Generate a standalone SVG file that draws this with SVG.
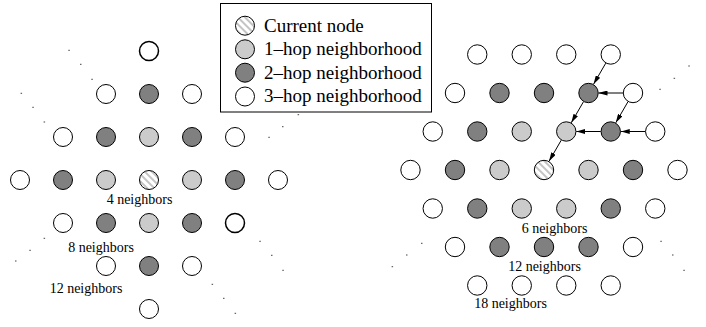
<svg xmlns="http://www.w3.org/2000/svg" width="706" height="327" viewBox="0 0 706 327">
  <style>
    .n { stroke: #000; stroke-width: 1; }
    .w { fill: #fff; }
    .l { fill: #cbcbcb; }
    .d { fill: #808080; }
    .h { fill: url(#hatch); }
    .bold { stroke-width: 1.5; }
    .lbl { font-family: "Liberation Serif", "Times New Roman", serif; font-size: 14px; fill: #000; text-anchor: middle; }
    .leg { font-family: "Liberation Serif", "Times New Roman", serif; font-size: 19px; fill: #000; }
    .dot { fill: #444; }
    .edge { stroke: #000; stroke-width: 1; fill: none; marker-end: url(#arrow); }
  </style>
  <defs>
    <pattern id="hatch" width="5" height="5" patternUnits="userSpaceOnUse" patternTransform="rotate(-45)">
      <rect width="5" height="5" fill="#fff"/>
      <line x1="1" y1="0" x2="1" y2="5" stroke="#8a8a8a" stroke-width="1"/>
    </pattern>
    <marker id="arrow" viewBox="0 0 9 5" refX="9" refY="2.5" markerWidth="9" markerHeight="5" markerUnits="userSpaceOnUse" orient="auto">
      <path d="M0,0 L9,2.5 L0,5 z" fill="#000"/>
    </marker>
  </defs>

  <rect x="0" y="0" width="706" height="327" fill="#fff"/>

  <!-- Legend -->
  <g id="legend">
    <rect x="220.5" y="3.5" width="211" height="108.5" fill="#fff" stroke="#000" stroke-width="1"/>
    <circle class="n h" cx="245" cy="25.7" r="9.5"/>
    <circle class="n l" cx="245" cy="49.3" r="9.5"/>
    <circle class="n d" cx="245" cy="72.7" r="9.5"/>
    <circle class="n w" cx="245" cy="96.5" r="9.5"/>
    <text class="leg" x="264" y="31.5">Current node</text>
    <text class="leg" x="264" y="55">1–hop neighborhood</text>
    <text class="leg" x="264" y="78.5">2–hop neighborhood</text>
    <text class="leg" x="264" y="102">3–hop neighborhood</text>
  </g>

  <!-- Square grid: 4 / 8 / 12 neighbors -->
  <g id="square-grid">
    <circle class="n w bold" cx="149" cy="51" r="9.5"/>

    <circle class="n w" cx="106" cy="94" r="9.5"/>
    <circle class="n d" cx="149" cy="94" r="9.5"/>
    <circle class="n w" cx="192" cy="94" r="9.5"/>

    <circle class="n w" cx="63" cy="137" r="9.5"/>
    <circle class="n d" cx="106" cy="137" r="9.5"/>
    <circle class="n l" cx="149" cy="137" r="9.5"/>
    <circle class="n d" cx="192" cy="137" r="9.5"/>
    <circle class="n w" cx="235" cy="137" r="9.5"/>

    <circle class="n w" cx="20" cy="180" r="9.5"/>
    <circle class="n d" cx="63" cy="180" r="9.5"/>
    <circle class="n l" cx="106" cy="180" r="9.5"/>
    <circle class="n h" cx="149" cy="180" r="9.5"/>
    <circle class="n l" cx="192" cy="180" r="9.5"/>
    <circle class="n d" cx="235" cy="180" r="9.5"/>
    <circle class="n w" cx="278" cy="180" r="9.5"/>

    <circle class="n w" cx="63" cy="223" r="9.5"/>
    <circle class="n d" cx="106" cy="223" r="9.5"/>
    <circle class="n l" cx="149" cy="223" r="9.5"/>
    <circle class="n d" cx="192" cy="223" r="9.5"/>
    <circle class="n w bold" cx="235" cy="223" r="9.5"/>

    <circle class="n w" cx="106" cy="266" r="9.5"/>
    <circle class="n d" cx="149" cy="266" r="9.5"/>
    <circle class="n w" cx="192" cy="266" r="9.5"/>

    <circle class="n w" cx="149" cy="309" r="9.5"/>

    <text class="lbl" x="139.5" y="204">4 neighbors</text>
    <text class="lbl" x="101" y="252">8 neighbors</text>
    <text class="lbl" x="86" y="293">12 neighbors</text>

    <!-- continuation marks -->
    <rect class="dot" x="68.3" y="49.8" width="1.5" height="1"/>
    <rect class="dot" x="80" y="63.8" width="1.5" height="1"/>
    <rect class="dot" x="91.3" y="78.8" width="1.5" height="1"/>
    <rect class="dot" x="20.6" y="92.8" width="1.5" height="1"/>
    <rect class="dot" x="32.3" y="106.8" width="1.5" height="1"/>
    <rect class="dot" x="43.6" y="121.5" width="1.5" height="1"/>
    <rect class="dot" x="297.6" y="114.2" width="1.5" height="1"/>
    <rect class="dot" x="282" y="126.2" width="1.5" height="1"/>
    <rect class="dot" x="268.3" y="136.8" width="1.5" height="1"/>
    <rect class="dot" x="43.6" y="237.8" width="1.5" height="1"/>
    <rect class="dot" x="29.3" y="249.8" width="1.5" height="1"/>
    <rect class="dot" x="15" y="260.5" width="1.5" height="1"/>
    <rect class="dot" x="259.3" y="240.8" width="1.5" height="1"/>
    <rect class="dot" x="271" y="254.8" width="1.5" height="1"/>
    <rect class="dot" x="282.3" y="269.8" width="1.5" height="1"/>
    <rect class="dot" x="211.6" y="283.8" width="1.5" height="1"/>
    <rect class="dot" x="223" y="297.8" width="1.5" height="1"/>
    <rect class="dot" x="234.6" y="312.8" width="1.5" height="1"/>
  </g>

  <!-- Hexagonal grid: 6 / 12 / 18 neighbors -->
  <g id="hex-grid">
    <circle class="n w" cx="477.25" cy="54.5" r="9.7"/>
    <circle class="n w" cx="521.75" cy="54.5" r="9.7"/>
    <circle class="n w" cx="566.25" cy="54.5" r="9.7"/>
    <circle class="n w" cx="610.75" cy="54.5" r="9.7"/>

    <circle class="n w" cx="455" cy="93" r="9.7"/>
    <circle class="n d" cx="499.5" cy="93" r="9.7"/>
    <circle class="n d" cx="544" cy="93" r="9.7"/>
    <circle class="n d" cx="588.5" cy="93" r="9.7"/>
    <circle class="n w" cx="633" cy="93" r="9.7"/>

    <circle class="n w" cx="432.75" cy="131.5" r="9.7"/>
    <circle class="n d" cx="477.25" cy="131.5" r="9.7"/>
    <circle class="n l" cx="521.75" cy="131.5" r="9.7"/>
    <circle class="n l" cx="566.25" cy="131.5" r="9.7"/>
    <circle class="n d" cx="610.75" cy="131.5" r="9.7"/>
    <circle class="n w" cx="655.25" cy="131.5" r="9.7"/>

    <circle class="n w" cx="410.5" cy="170" r="9.7"/>
    <circle class="n d" cx="455" cy="170" r="9.7"/>
    <circle class="n l" cx="499.5" cy="170" r="9.7"/>
    <circle class="n h" cx="544" cy="170" r="9.7"/>
    <circle class="n l" cx="588.5" cy="170" r="9.7"/>
    <circle class="n d" cx="633" cy="170" r="9.7"/>
    <circle class="n w" cx="677.5" cy="170" r="9.7"/>

    <circle class="n w" cx="432.75" cy="208.5" r="9.7"/>
    <circle class="n d" cx="477.25" cy="208.5" r="9.7"/>
    <circle class="n l" cx="521.75" cy="208.5" r="9.7"/>
    <circle class="n l" cx="566.25" cy="208.5" r="9.7"/>
    <circle class="n d" cx="610.75" cy="208.5" r="9.7"/>
    <circle class="n w" cx="655.25" cy="208.5" r="9.7"/>

    <circle class="n w" cx="455" cy="247" r="9.7"/>
    <circle class="n d" cx="499.5" cy="247" r="9.7"/>
    <circle class="n d" cx="544" cy="247" r="9.7"/>
    <circle class="n d" cx="588.5" cy="247" r="9.7"/>
    <circle class="n w" cx="633" cy="247" r="9.7"/>

    <circle class="n w" cx="477.25" cy="285.5" r="9.7"/>
    <circle class="n w" cx="521.75" cy="285.5" r="9.7"/>
    <circle class="n w" cx="566.25" cy="285.5" r="9.7"/>
    <circle class="n w" cx="610.75" cy="285.5" r="9.7"/>

    <text class="lbl" x="554.5" y="233">6 neighbors</text>
    <text class="lbl" x="544.5" y="271">12 neighbors</text>
    <text class="lbl" x="510.5" y="308">18 neighbors</text>

    <!-- continuation marks -->
    <rect class="dot" x="688.3" y="65.5" width="1.5" height="1"/>
    <rect class="dot" x="673.6" y="77.8" width="1.5" height="1"/>
    <rect class="dot" x="659.3" y="88.8" width="1.5" height="1"/>
    <rect class="dot" x="421" y="242.8" width="1.5" height="1"/>
    <rect class="dot" x="406" y="254.5" width="1.5" height="1"/>
    <rect class="dot" x="391.6" y="266.2" width="1.5" height="1"/>
    <rect class="dot" x="660.3" y="240.8" width="1.5" height="1"/>
    <rect class="dot" x="672" y="254.5" width="1.5" height="1"/>
    <rect class="dot" x="683.3" y="269.8" width="1.5" height="1"/>
  </g>

  <!-- Forwarding paths toward the current node -->
  <g id="connectors">
    <line class="edge" x1="605.75" y1="63.16" x2="593.5" y2="84.34"/>
    <line class="edge" x1="623" y1="93" x2="598.5" y2="93"/>
    <line class="edge" x1="583.5" y1="101.66" x2="571.25" y2="122.84"/>
    <line class="edge" x1="628" y1="101.66" x2="615.75" y2="122.84"/>
    <line class="edge" x1="645.25" y1="131.5" x2="620.75" y2="131.5"/>
    <line class="edge" x1="600.75" y1="131.5" x2="576.25" y2="131.5"/>
    <line class="edge" x1="561.25" y1="140.16" x2="549" y2="161.34"/>
  </g>
</svg>
